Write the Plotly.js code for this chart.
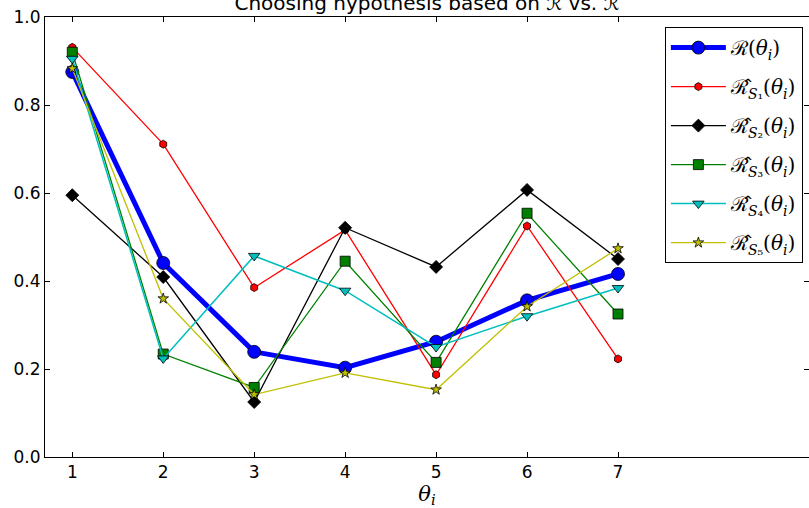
<!DOCTYPE html>
<html>
<head>
<meta charset="utf-8">
<script src="https://cdn.plot.ly/plotly-3.0.1.min.js"></script>
<style>html,body{margin:0;padding:0;background:#fff;}#chart{width:809px;height:508px;}</style>
</head>
<body>
<div id="chart"></div>
<script>
// Data
const theta = [1, 2, 3, 4, 5, 6, 7];
const R_true = [0.875, 0.441, 0.239, 0.203, 0.262, 0.356, 0.416];
const R_S1 = [0.931, 0.711, 0.385, 0.516, 0.187, 0.525, 0.223];
const R_S2 = [0.595, 0.409, 0.125, 0.521, 0.432, 0.607, 0.450];
const R_S3 = [0.920, 0.234, 0.158, 0.445, 0.215, 0.554, 0.325];
const R_S4 = [0.905, 0.224, 0.457, 0.378, 0.250, 0.320, 0.384];
const R_S5 = [0.883, 0.360, 0.142, 0.191, 0.153, 0.342, 0.474];
const seriesNames = [
  "ℛ(<i>θ<sub>i</sub></i>)",
  "ℛ̂<sub><i>S</i>₁</sub>(<i>θ<sub>i</sub></i>)",
  "ℛ̂<sub><i>S</i>₂</sub>(<i>θ<sub>i</sub></i>)",
  "ℛ̂<sub><i>S</i>₃</sub>(<i>θ<sub>i</sub></i>)",
  "ℛ̂<sub><i>S</i>₄</sub>(<i>θ<sub>i</sub></i>)",
  "ℛ̂<sub><i>S</i>₅</sub>(<i>θ<sub>i</sub></i>)"
];
const yTicks = [0, 0.2, 0.4, 0.6, 0.8, 1.0];

const seriesData = [R_true, R_S1, R_S2, R_S3, R_S4, R_S5];
const styles = [
  {color: '#0000ff', width: 5, symbol: 'circle', size: 13},
  {color: '#ff0000', width: 1.3, symbol: 'hexagon', size: 8},
  {color: '#000000', width: 1.3, symbol: 'diamond', size: 10},
  {color: '#008000', width: 1.3, symbol: 'square', size: 10},
  {color: '#00bfbf', width: 1.5, symbol: 'triangle-down', size: 10},
  {color: '#bfbf00', width: 1.3, symbol: 'star', size: 8}
];

const traces = seriesData.map((ys, i) => ({
  x: theta,
  y: ys,
  name: seriesNames[i],
  legendgroup: 'g' + i,
  type: 'scatter',
  mode: 'lines+markers',
  line: {color: styles[i].color, width: styles[i].width},
  marker: {color: styles[i].color, symbol: styles[i].symbol, size: styles[i].size,
           line: {color: '#000000', width: 0.8}}
}));

const layout = {
  width: 809, height: 508,
  margin: {l: 45, r: 0, t: 17, b: 51},
  paper_bgcolor: '#ffffff', plot_bgcolor: '#ffffff',
  font: {family: 'DejaVu Sans', size: 17, color: '#000'},
  title: {
    text: 'Choosing hypothesis based on ℛ̂ vs. ℛ',
    font: {family: 'DejaVu Sans', size: 20, color: '#000'},
    xref: 'paper', x: 0.5, xanchor: 'center',
    yref: 'container', y: 0.994, yanchor: 'middle'
  },
  xaxis: {
    range: [0.7, 9.1],
    tickvals: theta,
    ticktext: theta.map(String),
    ticks: 'inside', ticklen: 5, tickwidth: 1, tickcolor: '#000',
    showline: true, linecolor: '#000', linewidth: 1, mirror: 'ticks',
    showgrid: false, zeroline: false,
    tickfont: {family: 'DejaVu Sans', size: 17},
    title: {text: '<i>θ<sub>i</sub></i>', font: {family: 'DejaVu Serif', size: 21}, standoff: 11}
  },
  yaxis: {
    range: [0, 1],
    tickvals: yTicks,
    ticktext: yTicks.map(v => v.toFixed(1)),
    ticks: 'inside', ticklen: 5, tickwidth: 1, tickcolor: '#000',
    showline: true, linecolor: '#000', linewidth: 1, mirror: 'ticks',
    showgrid: false, zeroline: false,
    tickfont: {family: 'DejaVu Sans', size: 17}
  },
  showlegend: true,
  legend: {
    x: 0.992, xanchor: 'right', y: 0.977, yanchor: 'top',
    bgcolor: '#ffffff', bordercolor: '#000', borderwidth: 1,
    font: {family: 'DejaVu Serif', size: 20, color: '#000'},
    traceorder: 'grouped', tracegroupgap: 10,
    itemwidth: 55
  }
};

Plotly.newPlot('chart', traces, layout, {displayModeBar: false, staticPlot: true});
</script>
</body>
</html>
